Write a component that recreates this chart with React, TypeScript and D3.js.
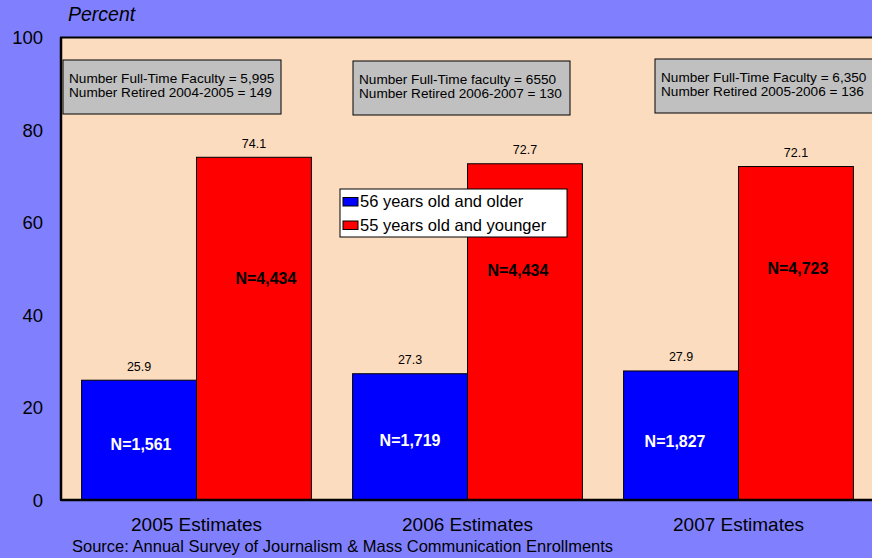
import React from "react";
import * as d3 from "d3";

const categories = ["2005 Estimates", "2006 Estimates", "2007 Estimates"];
const olderValues = [25.9, 27.3, 27.9];
const youngerValues = [74.1, 72.7, 72.1];
const olderN = ["N=1,561", "N=1,719", "N=1,827"];
const youngerN = ["N=4,434", "N=4,434", "N=4,723"];
const seriesNames = ["56 years old and older", "55 years old and younger"];
const yTicks = [0, 20, 40, 60, 80, 100];
const noteLine1 = [
  "Number Full-Time Faculty = 5,995",
  "Number Full-Time faculty = 6550",
  "Number Full-Time Faculty = 6,350",
];
const noteLine2 = [
  "Number Retired 2004-2005 = 149",
  "Number Retired 2006-2007 = 130",
  "Number Retired 2005-2006 = 136",
];

const W = 872;
const H = 558;
const FONT = "'Liberation Sans', Arial, sans-serif";

export default function App() {
  const left = 61;
  const top = 37.5;
  const bottom = 500;
  const x = d3.scaleBand<string>().domain(categories).range([left, 874]).paddingInner(0).paddingOuter(0);
  const y = d3.scaleLinear().domain([0, 100]).range([bottom, top]);
  const step = x.bandwidth();
  const barW = step * 0.424;
  const pad = (step - 2 * barW) / 2;
  const series = [olderValues, youngerValues];
  const colors = ["#0000FF", "#FF0000"];
  const noteX = [63, 353, 655];
  const noteW = [218, 217, 220];
  const noteY = [60, 61, 59];
  const redLabelPos = [48, 49.7, 50.2];
  const blueLabelPos = [12.2, 13, 12.8];
  const redDx = [12, -7, 2];
  const blueDx = [2, 0, -6];

  return (
    <svg width={W} height={H} style={{ position: "absolute", left: 0, top: 0, display: "block" }}>
      <rect x={0} y={0} width={W} height={H} fill="#8080FF" />
      <rect x={left} y={top} width={W - left + 10} height={bottom - top} fill="#FCDCBE" stroke="#000" strokeWidth={2} />
      {categories.map((c, i) => {
        const x0 = (x(c) as number) + pad;
        return (
          <g key={c}>
            {series.map((vals, s) => {
              const bx = x0 + s * barW;
              return (
                <g key={s}>
                  <rect x={bx} y={y(vals[i])} width={barW} height={bottom - y(vals[i])} fill={colors[s]} stroke="#000" strokeWidth={1} />
                  <text x={bx + barW / 2} y={y(vals[i]) - 9.5} textAnchor="middle" fontSize={12.5} fontFamily={FONT} fill="#000">
                    {vals[i].toFixed(1)}
                  </text>
                </g>
              );
            })}
            <text x={x0 + barW / 2 + blueDx[i]} y={y(blueLabelPos[i]) + 6} textAnchor="middle" fontSize={16} fontWeight="bold" fontFamily={FONT} fill="#fff">
              {olderN[i]}
            </text>
            <text x={x0 + barW * 1.5 + redDx[i]} y={y(redLabelPos[i]) + 6} textAnchor="middle" fontSize={16} fontWeight="bold" fontFamily={FONT} fill="#000">
              {youngerN[i]}
            </text>
            <text x={(x(c) as number) + step / 2} y={531} textAnchor="middle" fontSize={19} fontFamily={FONT} fill="#000">
              {c}
            </text>
            <rect x={noteX[i]} y={noteY[i]} width={noteW[i]} height={54} fill="#C0C0C0" stroke="#000" strokeWidth={1} />
            <text x={noteX[i] + 6} y={noteY[i] + 23} fontSize={13.6} fontFamily={FONT} fill="#000">{noteLine1[i]}</text>
            <text x={noteX[i] + 6} y={noteY[i] + 37} fontSize={13.6} fontFamily={FONT} fill="#000">{noteLine2[i]}</text>
          </g>
        );
      })}
      <line x1={left} x2={W} y1={bottom} y2={bottom} stroke="#000" strokeWidth={2.5} />
      <line x1={left} x2={left} y1={top} y2={bottom} stroke="#000" strokeWidth={2.5} />
      {yTicks.map((t) => (
        <text key={t} x={43} y={y(t) + 6.5} textAnchor="end" fontSize={18.5} fontFamily={FONT} fill="#000">
          {t}
        </text>
      ))}
      <text x={68} y={21} fontSize={19.5} fontStyle="italic" fontFamily={FONT} fill="#000">Percent</text>
      <g>
        <rect x={340} y={189} width={227} height={48} fill="#fff" stroke="#000" strokeWidth={1} />
        {seriesNames.map((n, s) => (
          <g key={n}>
            <rect x={343} y={197.5 + s * 23.5} width={15} height={8.5} fill={colors[s]} stroke="#000" strokeWidth={1} />
            <text x={360} y={207 + s * 24} fontSize={16.5} fontFamily={FONT} fill="#000">{n}</text>
          </g>
        ))}
      </g>
      <text x={72} y={552} fontSize={16.5} fontFamily={FONT} fill="#000">
        Source: Annual Survey of Journalism &amp; Mass Communication Enrollments
      </text>
    </svg>
  );
}
